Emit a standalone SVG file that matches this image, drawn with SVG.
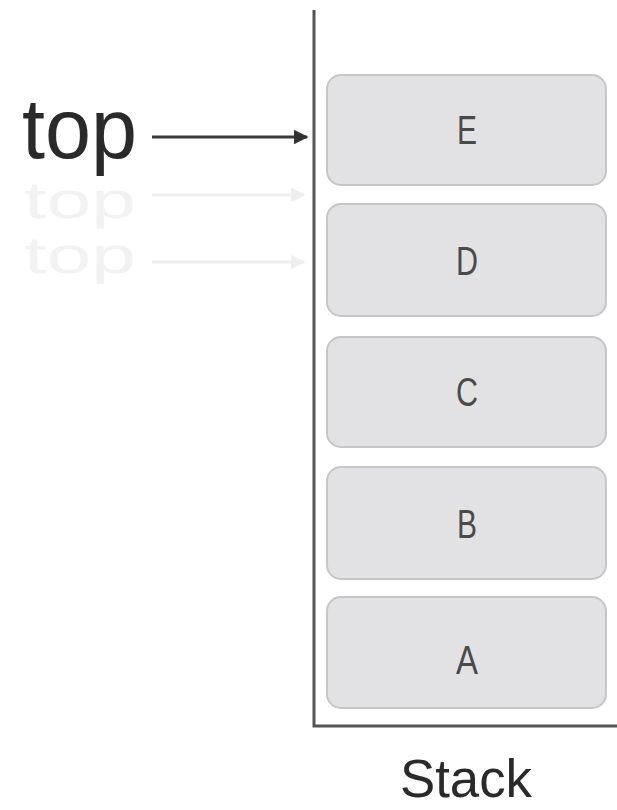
<svg xmlns="http://www.w3.org/2000/svg" width="617" height="810" viewBox="0 0 617 810">
<style>
.box{fill:#e2e2e4;stroke:#c6c6c8;stroke-width:2}
.lbl{font-family:"Liberation Sans",Arial,sans-serif;font-size:40px;fill:#4a4a4a;text-anchor:middle}
.big{font-family:"Liberation Sans",Arial,sans-serif;fill:#2a2a2a}
.ghost{font-family:"Liberation Sans",Arial,sans-serif;fill:#f2f2f2}
</style>
<defs>
<marker id="ah" viewBox="0 0 10 10" refX="9" refY="5" markerWidth="5" markerHeight="5" orient="auto" markerUnits="strokeWidth"><path d="M0,0 L10,5 L0,10 z" fill="#333"/></marker>
<marker id="ahg" viewBox="0 0 10 10" refX="9" refY="5" markerWidth="5" markerHeight="5" orient="auto" markerUnits="strokeWidth"><path d="M0,0 L10,5 L0,10 z" fill="#eeeeee"/></marker>
</defs>
<rect width="617" height="810" fill="#fff"/>
<g id="ghosts">
<text class="ghost" x="24" y="218" font-size="52" textLength="112" lengthAdjust="spacingAndGlyphs">top</text>
<text class="ghost" x="24" y="273" font-size="52" textLength="112" lengthAdjust="spacingAndGlyphs">top</text>
<line x1="152" y1="195" x2="304" y2="195" stroke="#eeeeee" stroke-width="3" marker-end="url(#ahg)"/>
<line x1="152" y1="262" x2="304" y2="262" stroke="#eeeeee" stroke-width="3" marker-end="url(#ahg)"/>
</g>
<g id="stack-frame">
<polyline points="314,10 314,726 617,726" fill="none" stroke="#555" stroke-width="3"/>
</g>
<g id="node-E"><rect class="box" x="327" y="75" width="279" height="110" rx="14"/><text class="lbl" x="467" y="144" textLength="20" lengthAdjust="spacingAndGlyphs">E</text></g>
<g id="node-D"><rect class="box" x="327" y="204" width="279" height="112" rx="14"/><text class="lbl" x="467" y="275" textLength="22" lengthAdjust="spacingAndGlyphs">D</text></g>
<g id="node-C"><rect class="box" x="327" y="337" width="279" height="110" rx="14"/><text class="lbl" x="467" y="406" textLength="22" lengthAdjust="spacingAndGlyphs">C</text></g>
<g id="node-B"><rect class="box" x="327" y="467" width="279" height="112" rx="14"/><text class="lbl" x="467" y="538" textLength="20" lengthAdjust="spacingAndGlyphs">B</text></g>
<g id="node-A"><rect class="box" x="327" y="597" width="279" height="111" rx="14"/><text class="lbl" x="467" y="674" textLength="22" lengthAdjust="spacingAndGlyphs">A</text></g>
<g id="node-top"><text class="big" x="22" y="158" font-size="86" textLength="115" lengthAdjust="spacingAndGlyphs">top</text></g>
<g id="connectors">
<line x1="152" y1="137" x2="307" y2="137" stroke="#3a3a3a" stroke-width="3" marker-end="url(#ah)"/>
</g>
<g id="label-stack"><text class="big" x="400" y="797" font-size="54" textLength="132" lengthAdjust="spacingAndGlyphs">Stack</text></g>
</svg>
